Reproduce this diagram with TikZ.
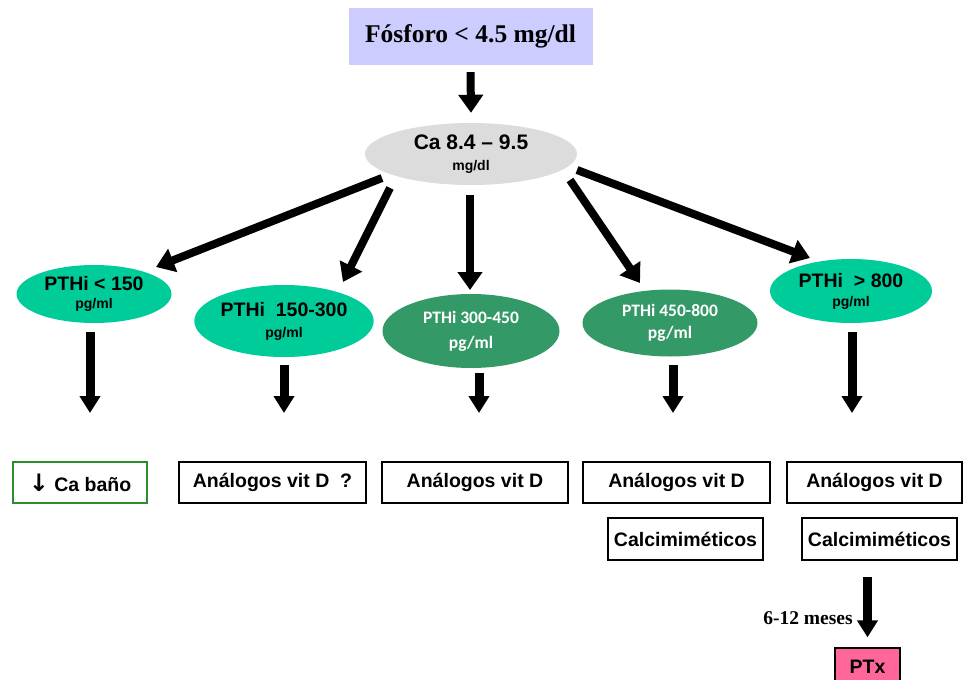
\documentclass[tikz,border=0pt]{standalone}
\usepackage{fontspec}
\setmainfont{Liberation Serif}
\setsansfont{Liberation Sans}
\newfontfamily\calibfont{Carlito}
\newfontfamily\flechafont{DejaVu Sans}
\usetikzlibrary{arrows.meta, shapes.geometric}

\definecolor{lavanda}{HTML}{CCCCFF}
\definecolor{grisca}{HTML}{DCDCDC}
\definecolor{verdeclaro}{HTML}{00CC99}
\definecolor{verdeoscuro}{HTML}{339966}
\definecolor{rosa}{HTML}{FF6699}
\definecolor{verdeborde}{HTML}{2E8B2E}

\newcommand{\grande}{\fontsize{19.5}{21}\selectfont}
\newcommand{\chico}{\fontsize{14}{17}\selectfont}

\begin{document}
\begin{tikzpicture}[x=1pt, y=-1pt,
    nivel/.style={ellipse, inner sep=0pt, align=center, font=\sffamily\bfseries},
    claro/.style={nivel, fill=verdeclaro},
    oscuro/.style={nivel, fill=verdeoscuro, text=white, font=\calibfont\bfseries\fontsize{17.5}{22}\selectfont},
    caja/.style={draw, line width=1.3pt, minimum height=41pt, inner sep=0pt, font=\sffamily\bfseries\grande},
    rama/.style={line width=8pt, -{Triangle[width=24pt,length=18pt]}},
    baja/.style={line width=9pt, -{Triangle[width=20pt,length=17pt]}}
]
    \useasboundingbox (0,0) rectangle (964,680);
    \clip (0,0) rectangle (964,680);

    % Fósforo y calcio
    \node[fill=lavanda, minimum width=244pt, minimum height=57pt, inner sep=0pt,
          font=\bfseries\fontsize{25.5}{28}\selectfont] (fosforo) at (470.5,36.5) {Fósforo < 4.5 mg/dl};
    \node[nivel, fill=grisca, minimum width=212pt, minimum height=62pt] (ca) at (471,154)
        {\fontsize{21}{23}\selectfont Ca 8.4 – 9.5\\[9pt]\chico mg/dl};

    \draw[rama] ([yshift=-7pt]fosforo.south) -- ([yshift=10pt]ca.north);

    % Niveles de PTHi
    \node[claro, minimum width=155pt, minimum height=58pt] (p1) at (94,294)
        {\grande PTHi < 150\\[6pt]\chico pg/ml};
    \node[claro, minimum width=178pt, minimum height=72pt] (p2) at (284,321)
        {\grande PTHi\ \ 150-300\\[9pt]\chico pg/ml};
    \node[oscuro, minimum width=177pt, minimum height=74pt] (p3) at (471,331)
        {PTHi 300-450\\[3pt]pg/ml};
    \node[oscuro, minimum width=175pt, minimum height=67pt] (p4) at (670,323)
        {PTHi 450-800\\pg/ml};
    \node[claro, minimum width=162pt, minimum height=64pt] (p5) at (851,291)
        {\grande PTHi\ \ > 800\\[7pt]\chico pg/ml};

    \draw[rama] ([shift={(-89,24)}]ca.center) -- ([shift={(62,-27)}]p1.center);
    \draw[rama] ([shift={(-81,34)}]ca.center) -- ([shift={(59,-39)}]p2.center);
    \draw[rama] ([shift={(-1,41)}]ca.center) -- ([shift={(-1,-41)}]p3.center);
    \draw[rama] ([shift={(99,26)}]ca.center) -- ([shift={(-30,-40)}]p4.center);
    \draw[rama] ([shift={(106,16)}]ca.center) -- ([shift={(-41,-33)}]p5.center);

    % Flechas hacia los tratamientos
    \coordinate (d1) at (90,413);
    \coordinate (d2) at (284,413);
    \coordinate (d3) at (479,413);
    \coordinate (d4) at (673,413);
    \coordinate (d5) at (852,413);

    \draw[baja] ([yshift=-9pt]d1 |- p1.south) -- (d1);
    \draw[baja] ([yshift=-8pt]d2 |- p2.south) -- (d2);
    \draw[baja] ([yshift=-5pt]d3 |- p3.south) -- (d3);
    \draw[baja] ([yshift=-8pt]d4 |- p4.south) -- (d4);
    \draw[baja] ([yshift=-9pt]d5 |- p5.south) -- (d5);

    % Tratamientos
    \node[caja, draw=verdeborde, minimum width=134pt] (t1) at (80,482.5)
        {{\flechafont\bfseries\fontsize{24}{24}\selectfont ↓}\ Ca baño};
    \node[caja, minimum width=187pt] (t2) at (272.5,482.5) {Análogos vit D\ \ ?};
    \node[caja, minimum width=186pt] (t3) at (475,482.5) {Análogos vit D};
    \node[caja, minimum width=187pt] (t4) at (676.5,482.5) {Análogos vit D};
    \node[caja, minimum width=175pt] (t5) at (874.5,482.5) {Análogos vit D};

    \node[caja, minimum width=155pt, minimum height=42pt] (c4) at (685.5,539) {Calcimiméticos};
    \node[caja, minimum width=155pt, minimum height=42pt] (c5) at (879.5,539) {Calcimiméticos};

    % Paratiroidectomía
    \node[caja, fill=rosa, minimum width=65pt, minimum height=38pt] (ptx) at (867.5,667) {PTx};

    \draw[baja] ([yshift=-16pt]ptx.north |- c5.south) -- ([yshift=10pt]ptx.north)
        node[pos=0.68, left=7pt, font=\bfseries\fontsize{19.5}{21}\selectfont] {6-12 meses};
\end{tikzpicture}
\end{document}
